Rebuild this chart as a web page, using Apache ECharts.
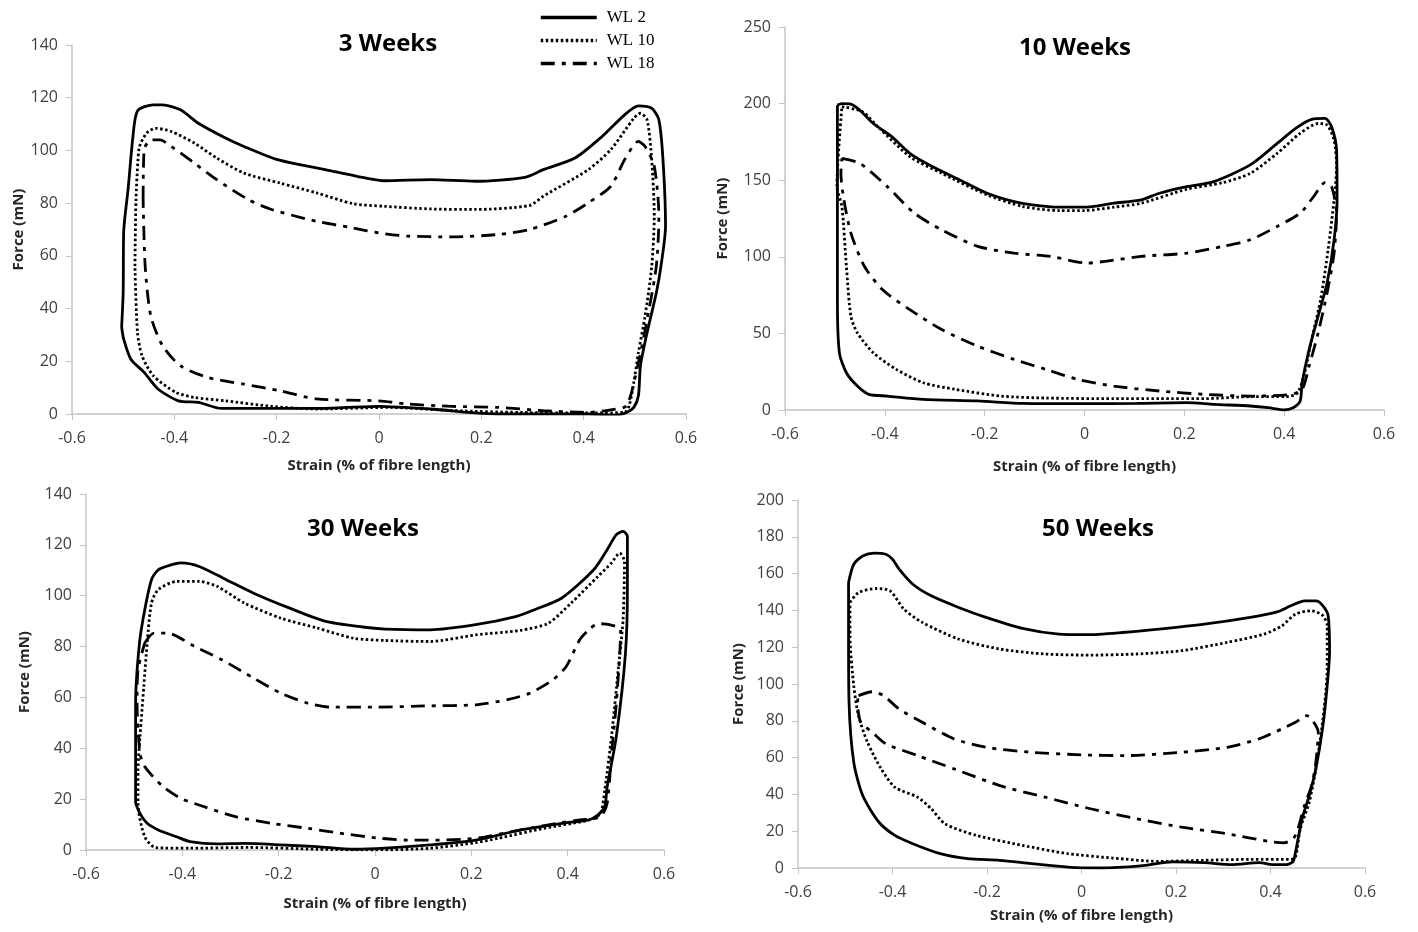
<!DOCTYPE html>
<html>
<head>
<meta charset="utf-8">
<script src="https://cdn.jsdelivr.net/npm/echarts@6/dist/echarts.min.js"></script>
<style>
  html, body { margin: 0; padding: 0; background: #fff; }
  #chart { width: 1418px; height: 932px; }
</style>
</head>
<body>
<div id="chart"></div>
<script>
// panel titles and axis ticks
const panelTitles = ['3 Weeks', '10 Weeks', '30 Weeks', '50 Weeks'];
const yMax = [140, 250, 140, 200];
const yStep = [20, 50, 20, 20];
const loopNames = ['WL 2', 'WL 10', 'WL 18'];

// 3 weeks: [strain, force]
const w3_wl2 = [[-0.503,33],[-0.500,46],[-0.499,69],[-0.490,86],[-0.481,105],[-0.472,115],[-0.441,117.3],[-0.423,117.3],[-0.388,115.4],[-0.353,110.3],[-0.300,104.7],[-0.264,101.5],[-0.202,96.7],[-0.140,94],[-0.105,92.7],[-0.043,90.2],[0.011,88.5],[0.100,88.9],[0.188,88.3],[0.285,89.8],[0.321,92.7],[0.383,97.1],[0.436,105.3],[0.480,113.5],[0.507,116.9],[0.533,116],[0.547,111.6],[0.555,96.5],[0.560,71.2],[0.551,56],[0.542,46],[0.524,30.9],[0.511,18.3],[0.507,6.9],[0.498,2.5],[0.484,0.6],[0.462,-0.4],[0.409,0],[0.320,0],[0.232,0],[0.188,0.4],[0.100,1.9],[0.000,2.9],[-0.122,2.1],[-0.210,2.1],[-0.308,2.1],[-0.353,4.4],[-0.392,5],[-0.432,9.5],[-0.459,15.8],[-0.485,20.8],[-0.499,28.4],[-0.503,33]];
const w3_wl10 = [[-0.477,56.1],[-0.475,81.3],[-0.471,96.5],[-0.468,101.5],[-0.454,106.6],[-0.437,108.4],[-0.406,107.2],[-0.361,102.8],[-0.317,97.1],[-0.264,91.4],[-0.193,87.6],[-0.122,83.9],[-0.051,79.8],[0.011,78.8],[0.100,77.8],[0.188,77.6],[0.294,79.1],[0.321,82.6],[0.409,92.7],[0.453,100.3],[0.498,112.2],[0.511,114.1],[0.524,111.6],[0.533,96.5],[0.538,75],[0.533,56],[0.520,37.2],[0.507,23.3],[0.498,12],[0.489,3.2],[0.480,0.6],[0.410,0.4],[0.276,0.6],[0.143,1.3],[0.020,2.5],[-0.122,1.9],[-0.210,2.9],[-0.300,5],[-0.361,6.3],[-0.397,8.2],[-0.441,14.5],[-0.463,22],[-0.472,30.9],[-0.477,56.1]];
const w3_wl18 = [[-0.461,81.3],[-0.459,100.3],[-0.446,104],[-0.428,104],[-0.406,101.5],[-0.361,95.2],[-0.317,88.9],[-0.255,81.3],[-0.210,77.6],[-0.122,73.1],[-0.051,70.6],[0.000,68.7],[0.055,67.5],[0.143,67.2],[0.232,68.1],[0.294,70],[0.365,75],[0.409,80.1],[0.453,86.4],[0.480,96.5],[0.507,103.4],[0.520,101.5],[0.538,94],[0.547,75],[0.542,56.1],[0.524,35.9],[0.507,19.5],[0.484,3.2],[0.453,1.6],[0.409,0.6],[0.320,1.3],[0.232,2.5],[0.143,2.9],[0.055,3.8],[0.000,5],[-0.122,5.7],[-0.193,8.8],[-0.264,11.3],[-0.335,13.9],[-0.388,18.3],[-0.423,25.9],[-0.446,37.2],[-0.457,56.1],[-0.461,81.3]];

// 10 weeks
const w10_wl2 = [[-0.495,199],[-0.486,200],[-0.468,199.7],[-0.450,195.7],[-0.423,187],[-0.386,178.4],[-0.350,167.5],[-0.305,158.9],[-0.250,150.2],[-0.195,141.5],[-0.141,136],[-0.105,133.9],[-0.050,132.4],[0.000,132.4],[0.059,135],[0.114,137.2],[0.150,141.5],[0.205,145.8],[0.259,149.1],[0.332,160],[0.386,174],[0.423,183.8],[0.455,189.7],[0.482,190.3],[0.495,184.9],[0.505,169.7],[0.506,137.2],[0.500,111],[0.486,82.9],[0.468,61.2],[0.450,39.5],[0.436,17.8],[0.432,5.9],[0.418,1.5],[0.400,0],[0.368,1.5],[0.332,2.6],[0.259,3.7],[0.205,4.8],[0.105,4.3],[0.000,4.1],[-0.123,4.3],[-0.214,5.9],[-0.323,6.9],[-0.395,9.1],[-0.432,10.2],[-0.455,15.6],[-0.477,24.3],[-0.491,37.3],[-0.495,72],[-0.495,137.2],[-0.495,199]];
const w10_wl10 = [[-0.486,198],[-0.445,194.7],[-0.414,185],[-0.350,165.4],[-0.286,154.5],[-0.195,140.4],[-0.123,132.8],[-0.050,130.2],[0.000,130.2],[0.059,132.4],[0.114,135],[0.205,144.1],[0.277,148.4],[0.332,154.5],[0.386,167.5],[0.432,180.6],[0.468,187],[0.486,186],[0.500,176.2],[0.505,158.9],[0.500,137.2],[0.488,104.6],[0.473,72],[0.455,46],[0.441,24.3],[0.427,11.3],[0.405,8.7],[0.332,8.7],[0.241,7.4],[0.150,7.4],[0.059,7.4],[-0.077,7.8],[-0.168,9.1],[-0.259,13.5],[-0.323,17.8],[-0.377,26.5],[-0.423,37.3],[-0.455,50.3],[-0.468,61.2],[-0.477,93.8],[-0.486,132.8],[-0.496,145.8],[-0.486,198]];
const w10_wl18 = [[-0.486,164.3],[-0.450,161],[-0.395,145.8],[-0.341,128.5],[-0.286,117.6],[-0.214,106.8],[-0.141,102.4],[-0.068,100.3],[0.005,95.9],[0.041,97],[0.114,100.3],[0.205,102.4],[0.277,106.8],[0.332,111.1],[0.386,119.8],[0.432,128.5],[0.459,139.3],[0.482,148.4],[0.495,145.8],[0.505,128.5],[0.500,102.4],[0.486,76.4],[0.468,50.3],[0.450,28.6],[0.436,13.5],[0.414,10.2],[0.332,9.1],[0.241,10.2],[0.150,12.4],[0.059,15.6],[-0.014,20],[-0.077,26.5],[-0.141,33],[-0.214,41.7],[-0.286,52.5],[-0.350,65.5],[-0.405,78.6],[-0.441,93.8],[-0.468,115.5],[-0.482,137.2],[-0.488,154.5],[-0.486,164.3]];

// 30 weeks
const w30_wl2 = [[-0.497,18.4],[-0.497,31.5],[-0.497,57.7],[-0.489,81.4],[-0.478,94.5],[-0.464,106.3],[-0.450,110.2],[-0.422,112.2],[-0.403,112.9],[-0.365,111.5],[-0.309,106.3],[-0.252,101],[-0.177,95.1],[-0.102,89.9],[-0.026,87.7],[0.021,86.9],[0.115,86.6],[0.209,88.6],[0.294,91.9],[0.331,94.5],[0.388,99.1],[0.454,110.2],[0.482,118.1],[0.501,124],[0.515,125.3],[0.524,123.4],[0.524,103.7],[0.520,77.4],[0.501,44.6],[0.482,24.9],[0.477,17.1],[0.463,13.8],[0.444,11.8],[0.388,10.5],[0.303,7.9],[0.209,3.9],[0.115,2],[0.021,0.7],[-0.045,0.3],[-0.120,1.3],[-0.196,2],[-0.271,2.6],[-0.328,2.4],[-0.384,3.3],[-0.412,5.2],[-0.450,7.9],[-0.473,10.5],[-0.488,14.4],[-0.497,18.4]];
const w30_wl10 = [[-0.488,44.6],[-0.480,64.3],[-0.473,81.4],[-0.464,97.1],[-0.450,102.4],[-0.412,105.6],[-0.365,105.6],[-0.328,103.7],[-0.271,97.1],[-0.196,91.2],[-0.120,87.3],[-0.045,83.3],[0.021,82.4],[0.115,82],[0.209,84.6],[0.303,86.4],[0.360,89.2],[0.407,97.1],[0.463,107.6],[0.491,112.9],[0.508,116.8],[0.518,113.5],[0.515,90.6],[0.505,70.9],[0.491,44.6],[0.477,23.6],[0.468,14.4],[0.444,11.8],[0.350,8.5],[0.256,4.6],[0.209,2.9],[0.115,0.7],[0.000,0],[-0.120,0.3],[-0.262,1],[-0.384,0.7],[-0.455,0.9],[-0.478,5.2],[-0.492,18.4],[-0.492,31.5],[-0.488,44.6]];
const w30_wl18 = [[-0.478,81.4],[-0.459,85.3],[-0.431,85.3],[-0.375,80.1],[-0.318,74.8],[-0.252,67.6],[-0.196,61.7],[-0.139,57.7],[-0.092,56.2],[0.000,56.2],[0.115,56.7],[0.209,57.1],[0.275,59.1],[0.322,61.7],[0.369,66.9],[0.397,72.2],[0.425,82.7],[0.444,86.6],[0.463,89],[0.487,88.6],[0.510,86.6],[0.501,57.7],[0.491,38.1],[0.482,18.4],[0.468,13.1],[0.425,11.8],[0.378,10.5],[0.303,7.9],[0.209,4.6],[0.124,3.9],[0.068,3.9],[0.011,4.6],[-0.073,6.6],[-0.139,8.5],[-0.215,10.5],[-0.290,13.1],[-0.356,17.1],[-0.403,20.3],[-0.440,24.9],[-0.478,32.8],[-0.488,38.1],[-0.494,57.7],[-0.492,70.9],[-0.478,81.4]];

// 50 weeks
const w50_wl2 = [[-0.493,155.2],[-0.482,165.1],[-0.463,169.6],[-0.439,171.1],[-0.414,170.5],[-0.400,167.8],[-0.386,162.4],[-0.357,154.2],[-0.318,147.9],[-0.260,141.6],[-0.202,136.2],[-0.125,130.2],[-0.048,127.1],[0.010,126.8],[0.087,128],[0.164,129.8],[0.260,132.5],[0.357,136.2],[0.414,139.2],[0.443,142.5],[0.472,145.2],[0.496,145.2],[0.511,142.5],[0.522,137.1],[0.525,117.2],[0.520,99.1],[0.511,77.4],[0.496,53.9],[0.482,39.4],[0.467,26.8],[0.453,8.7],[0.448,3.6],[0.434,1.8],[0.405,1.8],[0.376,2.9],[0.318,1.8],[0.260,2.9],[0.193,3.3],[0.125,1.1],[0.039,0],[-0.029,0.5],[-0.106,2.4],[-0.173,4.2],[-0.241,5.1],[-0.299,7.8],[-0.357,13.2],[-0.395,17.7],[-0.429,25],[-0.463,39.4],[-0.482,57.5],[-0.492,90.1],[-0.493,126.2],[-0.493,155.2]];
const w50_wl10 = [[-0.490,144.3],[-0.472,149.7],[-0.434,151.9],[-0.405,150.6],[-0.376,140.7],[-0.337,133.5],[-0.260,124.4],[-0.173,119],[-0.077,116.3],[0.019,115.7],[0.116,116.3],[0.212,118.1],[0.308,122.6],[0.386,127.1],[0.424,131.6],[0.453,138],[0.487,139.8],[0.511,137.1],[0.520,131.6],[0.520,108.1],[0.511,81],[0.496,53.9],[0.482,35.8],[0.463,21.3],[0.453,6],[0.443,4.7],[0.357,4.7],[0.260,4.2],[0.164,3.6],[0.067,5.4],[-0.029,7.8],[-0.125,12.3],[-0.222,17.7],[-0.289,24],[-0.318,32.2],[-0.347,38.5],[-0.395,43.9],[-0.424,53.9],[-0.453,68.4],[-0.472,82.8],[-0.482,99.1],[-0.490,126.2],[-0.490,144.3]];
const w50_wl18 = [[-0.472,93.7],[-0.443,95.8],[-0.419,93.7],[-0.386,86.4],[-0.337,79.2],[-0.270,70.2],[-0.202,65.6],[-0.106,62.9],[0.000,61.5],[0.096,61.1],[0.212,62.9],[0.308,65.6],[0.376,70.2],[0.424,75.6],[0.453,79.2],[0.477,82.8],[0.487,81],[0.501,73.8],[0.496,57.5],[0.487,44.8],[0.472,34],[0.458,21.3],[0.448,15.9],[0.429,13.7],[0.395,14.5],[0.308,18.6],[0.212,22.2],[0.116,26.8],[0.019,32.2],[-0.077,38.5],[-0.173,44.8],[-0.270,53.9],[-0.347,61.1],[-0.414,67.5],[-0.443,73.8],[-0.467,79.2],[-0.474,90.1],[-0.472,93.7]];

const loops = [
  [w3_wl2, w3_wl10, w3_wl18],
  [w10_wl2, w10_wl10, w10_wl18],
  [w30_wl2, w30_wl10, w30_wl18],
  [w50_wl2, w50_wl10, w50_wl18]
];

const grids = [
  { left: 72, top: 45, width: 614, height: 369 },
  { left: 785, top: 27, width: 599, height: 383 },
  { left: 86, top: 494, width: 578, height: 356 },
  { left: 798, top: 500, width: 567, height: 368 }
];
const titlePos = [[383, 27], [1070, 31], [358, 512], [1093, 512]];
const xNameGap = [44, 49, 46, 40];
const yNameGap = [44, 55, 54, 52];

const lineTypes = ['solid', [2.5, 2.5], [14, 7, 4, 7]];

const labelFont = { fontFamily: 'Open Sans', fontSize: 16, color: '#404040' };
const axisGray = '#c4c4c4';

const chart = echarts.init(document.getElementById('chart'));

const xAxes = grids.map((g, i) => ({
  type: 'value', gridIndex: i, min: -0.6, max: 0.6, interval: 0.2,
  name: 'Strain (% of fibre length)', nameLocation: 'middle', nameGap: xNameGap[i],
  nameTextStyle: { fontFamily: 'Open Sans', fontSize: 15, fontWeight: 'bold', color: '#262626' },
  axisLine: { onZero: false, lineStyle: { color: axisGray, width: 1.5 } },
  axisTick: { show: true, length: 6, lineStyle: { color: axisGray } },
  axisLabel: Object.assign({ margin: 16, formatter: v => String(+v.toFixed(1)) }, labelFont),
  splitLine: { show: false }
}));

const yAxes = grids.map((g, i) => ({
  type: 'value', gridIndex: i, min: 0, max: yMax[i], interval: yStep[i],
  name: 'Force (mN)', nameLocation: 'middle', nameGap: yNameGap[i],
  nameTextStyle: { fontFamily: 'Open Sans', fontSize: 15, fontWeight: 'bold', color: '#262626' },
  axisLine: { show: true, onZero: false, lineStyle: { color: axisGray, width: 1.5 } },
  axisTick: { show: true, length: 6, lineStyle: { color: axisGray } },
  axisLabel: Object.assign({ margin: 14 }, labelFont),
  splitLine: { show: false }
}));

const series = [];
loops.forEach((set, p) => {
  set.forEach((pts, k) => {
    series.push({
      type: 'line', name: loopNames[k], xAxisIndex: p, yAxisIndex: p,
      data: pts, showSymbol: false, symbol: 'none', smooth: 0.25,
      lineStyle: { color: '#000', width: 2.8, type: lineTypes[k] },
      itemStyle: { color: '#000' },
      silent: true
    });
  });
});

chart.setOption({
  backgroundColor: '#fff',
  animation: false,
  title: panelTitles.map((t, i) => ({
    text: t, left: titlePos[i][0], top: titlePos[i][1], textAlign: 'center',
    textStyle: { fontFamily: 'Open Sans', fontSize: 24, fontWeight: 'bold', color: '#000' }
  })),
  legend: {
    data: loopNames, orient: 'vertical', left: 534, top: 4,
    itemWidth: 56, itemHeight: 14, itemGap: 6,
    itemStyle: { opacity: 0, borderWidth: 0 },
    lineStyle: { width: 3.5 },
    textStyle: { fontFamily: 'Liberation Serif', fontSize: 17, color: '#000', padding: [0, 0, 0, 5] },
    selectedMode: false
  },
  grid: grids,
  xAxis: xAxes,
  yAxis: yAxes,
  series: series
});
</script>
</body>
</html>
